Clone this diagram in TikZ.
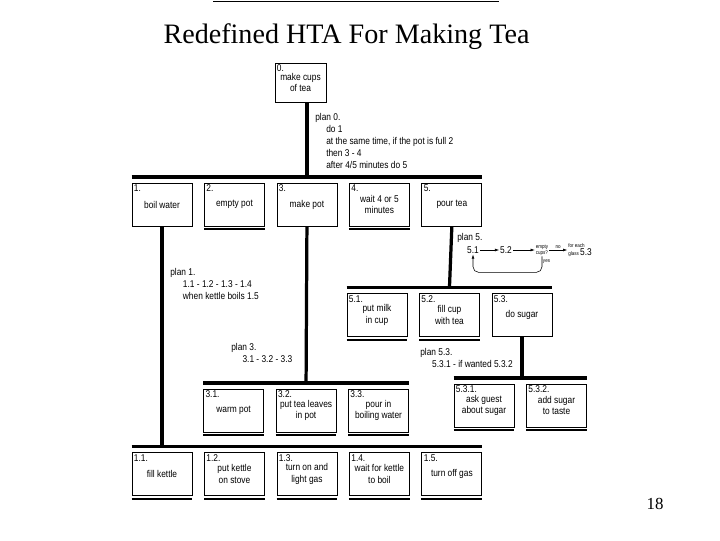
\documentclass[tikz,border=0pt]{standalone}
\usepackage{fontspec}
\setmainfont{Liberation Serif}
\newfontfamily\htafont[FakeStretch=0.85]{Liberation Sans}
\usetikzlibrary{positioning,arrows.meta}

\begin{document}
\begin{tikzpicture}[x=0.025cm,y=-0.025cm,node distance=2.9mm,
  font=\htafont\fontsize{7}{8.4}\selectfont,
  task/.style={draw,semithick,minimum width=1.5cm,minimum height=1.075cm,
    inner sep=1pt,align=center},
  num/.style={anchor=north west,inner sep=1.5pt},
  bar/.style={line width=2.3pt},
  plan/.style={anchor=north west,align=left,inner sep=0pt},
  tiny/.style={font=\htafont\fontsize{3.8}{4.4}\selectfont,inner sep=0.5pt,align=left},
  flow/.style={-{Latex[length=3pt,width=2pt]},thin}]
\useasboundingbox (0,0) rectangle (720,540);

\draw[line width=0.8pt] (213,1.5) -- (499,1.5);
\node[font=\rmfamily\fontsize{20}{24}\selectfont,anchor=base] (title) at (346.5,43) {Redefined HTA For Making Tea};
\node[font=\rmfamily\fontsize{12}{14}\selectfont,anchor=base] (page) at (655,509) {18};

% top goal
\node[task,minimum width=1.275cm,minimum height=0.975cm,label={[num]north west:0.}] (b0) at (300.5,82.5) {make cups\\of tea};

% level 1
\node[task,label={[num]north west:1.}] (b1) at (162,204.5) {boil water};
\node[task,label={[num]north west:2.},right=of b1] (b2) {empty pot};
\node[task,label={[num]north west:3.},right=of b2] (b3) {make pot};
\node[task,label={[num]north west:4.},right=of b3] (b4) {wait 4 or 5\\minutes};
\node[task,label={[num]north west:5.},right=of b4] (b5) {pour tea};

% level 5.x
\node[task,label={[num]north west:5.1.}] (b51) at (377,315) {put milk\\in cup};
\node[task,label={[num]north west:5.2.},right=of b51] (b52) {fill cup\\with tea};
\node[task,label={[num]north west:5.3.},right=of b52] (b53) {do sugar};

% level 5.3.x
\node[task,label={[num]north west:5.3.1.}] (b531) at (484,405.5) {ask guest\\about sugar};
\node[task,label={[num]north west:5.3.2.},right=of b531] (b532) {add sugar\\to taste};

% level 3.x
\node[task,label={[num]north west:3.1.}] (b31) at (233.6,410.5) {warm pot};
\node[task,label={[num]north west:3.2.},right=of b31] (b32) {put tea leaves\\in pot};
\node[task,label={[num]north west:3.3.},right=of b32] (b33) {pour in\\boiling water};

% level 1.x
\node[task,label={[num]north west:1.1.}] (b11) at (162,474) {fill kettle};
\node[task,label={[num]north west:1.2.},right=of b11] (b12) {put kettle\\on stove};
\node[task,label={[num]north west:1.3.},right=of b12] (b13) {turn on and\\light gas};
\node[task,label={[num]north west:1.4.},right=of b13] (b14) {wait for kettle\\to boil};
\node[task,label={[num]north west:1.5.},right=of b14] (b15) {turn off gas};

% no further breakdown
\foreach \n in {b2,b4,b51,b52,b531,b532,b31,b32,b33,b11,b12,b13,b14,b15}
  \draw[line width=1.4pt] ([yshift=-0.075cm]\n.south west) -- ([yshift=-0.075cm]\n.south east);

% hierarchy bars
\draw[bar] (b3.north |- b0.south) -- ([yshift=0.14cm]b3.north);
\draw[bar] ([yshift=0.14cm]b1.north west) -- ([yshift=0.14cm]b5.north east);
\draw[bar] (b1.south) -- ([yshift=0.14cm]b11.north);
\draw[bar] ([yshift=0.14cm]b11.north west) -- ([yshift=0.14cm]b15.north east);
\draw[bar] (b3.south) -- ([yshift=0.14cm]b32.north);
\draw[bar] ([yshift=0.14cm]b31.north west) -- ([yshift=0.14cm]b33.north east);
\draw[bar] (b5.south) -- ([yshift=0.14cm]b52.north);
\draw[bar] ([yshift=0.14cm]b51.north west) -- ([yshift=0.14cm]b53.north east);
\draw[bar] (b53.south) -- ([yshift=0.14cm]b531.north -| b53.south);
\draw[bar] ([yshift=0.14cm]b531.north west) -- ([yshift=0.14cm]b532.north east);

% plans
\node[plan,font=\htafont\fontsize{7}{8.6}\selectfont] (p0) at (315,113) {plan 0.\\\hspace*{7.8pt}do 1\\\hspace*{7.8pt}at the same time, if the pot is full 2\\\hspace*{7.8pt}then 3 - 4\\\hspace*{7.8pt}after 4/5 minutes do 5};
\node[plan] (p1) at (170,268) {plan 1.\\\hspace*{9pt}1.1 - 1.2 - 1.3 - 1.4\\\hspace*{9pt}when kettle boils 1.5};
\node[plan] (p3) at (231,343) {plan 3.\\\hspace*{8pt}3.1 - 3.2 - 3.3};
\node[plan] (p53) at (420,348) {plan 5.3.\\\hspace*{8.5pt}5.3.1 - if wanted 5.3.2};

% plan 5 with its loop
\node[plan] (p5) at (457,233) {plan 5.};
\node[inner sep=0.5pt] (s51) at (473,250) {5.1};
\node[inner sep=0.5pt] (s52) at (506,250) {5.2};
\node[tiny] (q) at (542,250) {empty\\cups?};
\node[tiny] (g) at (580,250) {for each\\glass {\fontsize{7}{7}\selectfont 5.3}};
\draw[flow] (s51) -- (s52);
\draw[flow] (s52) -- (q);
\draw[flow] (q) -- node[tiny,above]{no} (g);
\draw[flow,rounded corners=4pt] (q.south) -- node[tiny,right,pos=0.3]{yes} ++(0,16) -| (s51.south);
\end{tikzpicture}
\end{document}
